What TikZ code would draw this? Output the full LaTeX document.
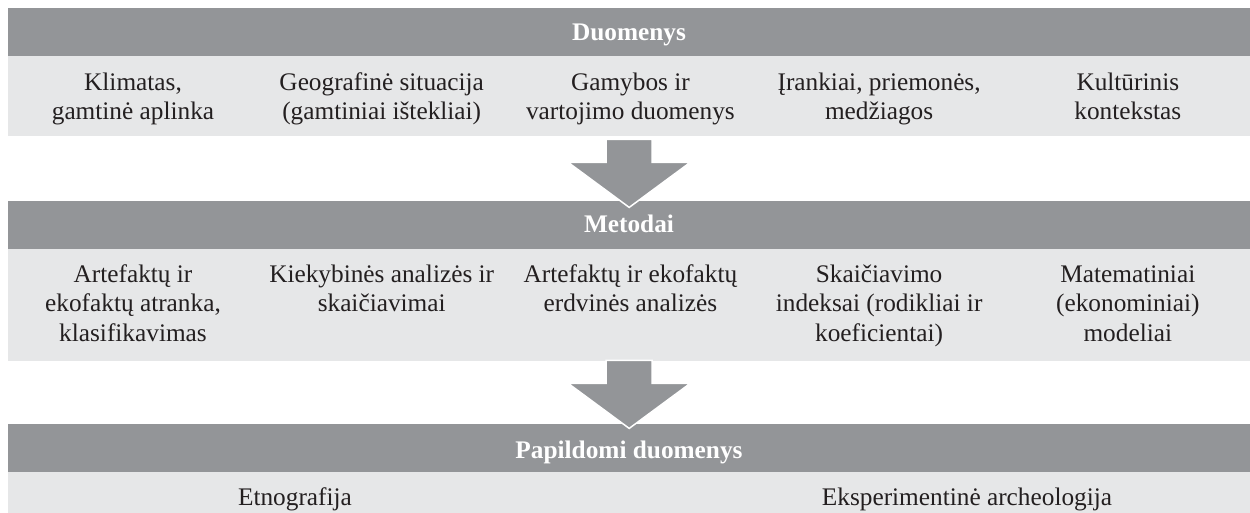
\documentclass[tikz,border=0pt]{standalone}
\usepackage{fontspec}
\setmainfont{Liberation Serif}
\usetikzlibrary{calc}
\definecolor{bardark}{HTML}{939598}
\definecolor{bandlight}{HTML}{E6E7E8}
\definecolor{ink}{HTML}{231F20}
\begin{document}
\begin{tikzpicture}[x=1pt,y=-1pt,
  bar/.style={fill=bardark, draw=none, inner sep=0, minimum width=1242pt, minimum height=48pt, anchor=north west},
  band/.style={fill=bandlight, draw=none, inner sep=0, minimum width=1242pt, anchor=north west},
  head/.style={font=\fontsize{25.3}{30}\selectfont\bfseries, text=white, inner sep=0, anchor=base},
  item/.style={font=\fontsize{25.3}{29.5}\selectfont, text=ink, align=center, anchor=north, inner sep=0},
  bigarrow/.style={fill=bardark, draw=white, line width=1.5pt, line join=miter}]
\useasboundingbox (0,0) rectangle (1250,513);
% bars and bands
\node[bar] (d1) at (8,8) {};
\node[band, minimum height=80pt] (d2) at (8,56) {};
\node[bar] (m1) at (8,201) {};
\node[band, minimum height=112pt] (m2) at (8,249) {};
\node[bar] (p1) at (8,424) {};
\node[band, minimum height=41pt] (p2) at (8,472) {};
% headers
\node[head] (d1t) at (629,41) {Duomenys};
\node[head] (m1t) at (629,233) {Metodai};
\node[head] (p1t) at (629,458) {Papildomi duomenys};
% row 1
\node[item] (a1) at (133,69.35) {\strut Klimatas,\\\strut gamtinė aplinka};
\node[item] (a2) at (381.7,69.35) {\strut Geografinė situacija\\\strut (gamtiniai ištekliai)};
\node[item] (a3) at (630.4,69.35) {\strut Gamybos ir\\\strut vartojimo duomenys};
\node[item] (a4) at (879.1,69.35) {\strut Įrankiai, priemonės,\\\strut medžiagos};
\node[item] (a5) at (1127.8,69.35) {\strut Kultūrinis\\\strut kontekstas};
% row 2
\node[item] (b1) at (133,261.35) {\strut Artefaktų ir\\\strut ekofaktų atranka,\\\strut klasifikavimas};
\node[item] (b2) at (381.7,261.35) {\strut Kiekybinės analizės ir\\\strut skaičiavimai};
\node[item] (b3) at (630.4,261.35) {\strut Artefaktų ir ekofaktų\\\strut erdvinės analizės};
\node[item] (b4) at (879.1,261.35) {\strut Skaičiavimo\\\strut indeksai (rodikliai ir\\\strut koeficientai)};
\node[item] (b5) at (1127.8,261.35) {\strut Matematiniai\\\strut (ekonominiai)\\\strut modeliai};
% row 3
\node[item] (c1) at (295,484.35) {\strut Etnografija};
\node[item] (c2) at (967,484.35) {\strut Eksperimentinė archeologija};
% arrows
\draw[bigarrow] ($(d2.south)+(-23,3)$) -- ++(46,0) -- ++(0,23) -- ++(38,0) -- ++(-61,45) -- ++(-61,-45) -- ++(38,0) -- cycle;
\draw[bigarrow] ($(m2.south)+(-23,-1)$) -- ++(46,0) -- ++(0,23) -- ++(38,0) -- ++(-61,45) -- ++(-61,-45) -- ++(38,0) -- cycle;
\end{tikzpicture}
\end{document}
